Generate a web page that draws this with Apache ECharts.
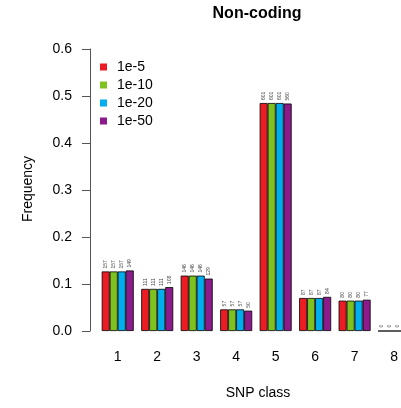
<!DOCTYPE html>
<html>
<head>
<meta charset="utf-8">
<script src="https://cdn.jsdelivr.net/npm/echarts@6/dist/echarts.min.js"></script>
<style>
  html, body { margin: 0; padding: 0; background: #fff; }
  #chart { width: 401px; height: 408px; }
</style>
</head>
<body>
<div id="chart"></div>
<script>
// SNP classes on the x axis
var categories = ['1', '2', '3', '4', '5', '6', '7', '8'];
// p-value thresholds (one bar series each)
var thresholds = ['1e-5', '1e-10', '1e-20', '1e-50'];
// SNP counts per class for each threshold
var counts_1e5  = [157, 111, 146, 57, 601, 87, 80, 0];
var counts_1e10 = [157, 111, 146, 57, 601, 87, 80, 0];
var counts_1e20 = [157, 111, 146, 57, 601, 87, 80, 0];
var counts_1e50 = [149, 108, 129, 50, 560, 84, 77, 0];
// y axis tick values
var yTicks = [0, 0.1, 0.2, 0.3, 0.4, 0.5, 0.6];

var colors = ['#EC1C24', '#7DC21E', '#00AEEF', '#8B1A8B'];
var allCounts = [counts_1e5, counts_1e10, counts_1e20, counts_1e50];
var FONT = '"Liberation Sans", Arial, sans-serif';

// class positions on a numeric x axis (one unit per class, 1-based)
var classPos = categories.map(function (c, i) { return i + 1; });

// frequency = count / total count for that threshold
function toFreq(arr) {
  var total = arr.reduce(function (a, b) { return a + b; }, 0);
  return arr.map(function (c, i) { return [classPos[i], c / total]; });
}

var series = thresholds.map(function (name, i) {
  var cnt = allCounts[i];
  return {
    name: name,
    type: 'bar',
    data: toFreq(cnt),
    barWidth: 8,
    barGap: '0%',
    itemStyle: { color: colors[i], borderColor: '#000', borderWidth: 0.8 },
    label: {
      show: true,
      position: 'top',
      rotate: 90,
      align: 'left',
      verticalAlign: 'middle',
      distance: 3,
      fontSize: 5,
      fontFamily: FONT,
      color: '#444',
      formatter: function (p) { return String(cnt[p.dataIndex]); }
    }
  };
});

var chart = echarts.init(document.getElementById('chart'), null, { renderer: 'canvas' });
chart.setOption({
  animation: false,
  backgroundColor: '#fff',
  grid: { left: 98, top: 49, right: 0, height: 282 },
  legend: {
    orient: 'vertical',
    left: 100,
    top: 60,
    padding: 0,
    icon: 'rect',
    itemWidth: 7,
    itemHeight: 7,
    itemGap: 4,
    data: thresholds,
    itemStyle: { borderWidth: 0 },
    textStyle: { fontSize: 14, fontFamily: FONT, color: '#000', padding: [0, 0, 0, 5], lineHeight: 14 }
  },
  xAxis: {
    type: 'value',
    min: 0.5,
    max: 8.075,
    splitLine: { show: false },
    axisLine: { show: false },
    axisTick: { show: false },
    axisLabel: {
      customValues: classPos,
      margin: 19, fontSize: 14, fontFamily: FONT, color: '#000',
      formatter: function (v) { return categories[Math.round(v) - 1]; }
    }
  },
  yAxis: {
    type: 'value',
    min: yTicks[0],
    max: yTicks[yTicks.length - 1],
    interval: 0.1,
    offset: 8,
    splitLine: { show: false },
    axisLine: { show: true, lineStyle: { color: '#555', width: 1 } },
    axisTick: { show: true, length: 8, lineStyle: { color: '#555', width: 1 } },
    axisLabel: {
      margin: 18, fontSize: 14, fontFamily: FONT, color: '#000',
      formatter: function (v) { return v.toFixed(1); }
    }
  },
  graphic: [
    { type: 'text', x: 257, y: 14, style: { text: 'Non-coding', font: 'bold 16px ' + FONT, fill: '#000', textAlign: 'center', textVerticalAlign: 'middle' } },
    { type: 'text', x: 258, y: 393, style: { text: 'SNP class', font: '14px ' + FONT, fill: '#000', textAlign: 'center', textVerticalAlign: 'middle' } },
    { type: 'text', x: 28, y: 189, rotation: Math.PI / 2, style: { text: 'Frequency', font: '14px ' + FONT, fill: '#000', textAlign: 'center', textVerticalAlign: 'middle' } }
  ],
  series: series
});
</script>
</body>
</html>
